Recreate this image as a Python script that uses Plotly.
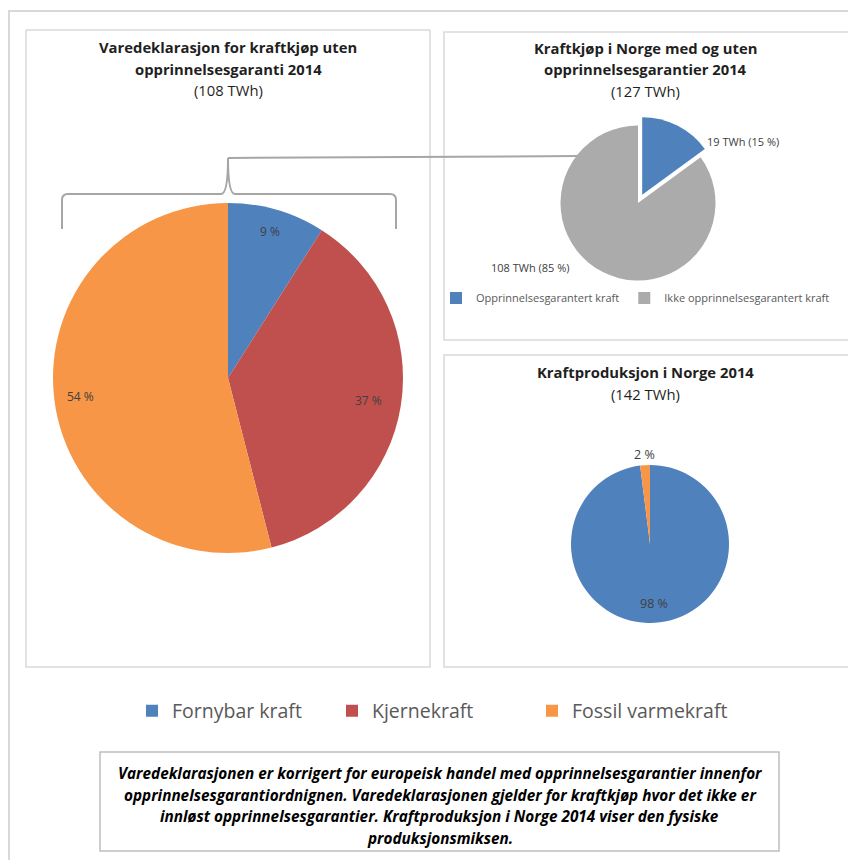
import math
import plotly.graph_objects as go

# page body has an 8px margin: the figure is drawn 8px in from the top-left
OFF = 8
W, H = 840, 852

# ---------------- data ----------------
mix_labels = ["Fornybar kraft", "Kjernekraft", "Fossil varmekraft"]
mix_colors = ["#4F81BD", "#C0504D", "#F79646"]
vare_values = [9, 37, 54]          # Varedeklarasjon uten opprinnelsesgaranti 2014 (%)
prod_values = [98, 0, 2]           # Kraftproduksjon i Norge 2014 (%)

og_labels = ["Opprinnelsesgarantert kraft", "Ikke opprinnelsesgarantert kraft"]
og_values = [19, 108]              # TWh
og_colors = ["#4F81BD", "#ABABAB"]

title_left = ["Varedeklarasjon for kraftkjøp uten", "opprinnelsesgaranti 2014", "(108 TWh)"]
title_tr = ["Kraftkjøp i Norge med og uten", "opprinnelsesgarantier 2014", "(127 TWh)"]
title_br = ["Kraftproduksjon i Norge 2014", "(142 TWh)"]
footnote = [
    "Varedeklarasjonen er korrigert for europeisk handel med opprinnelsesgarantier innenfor",
    "opprinnelsesgarantiordnignen. Varedeklarasjonen gjelder for kraftkjøp hvor det ikke er",
    "innløst opprinnelsesgarantier. Kraftproduksjon i Norge 2014 viser den fysiske",
    "produksjonsmiksen.",
]

FONT = "'Open Sans', Lato, sans-serif"
TXT = "#404040"


def X(px):
    return (px - OFF) / W


def Y(py):
    return 1 - (py - OFF) / H


def dom(cx, cy, half):
    return dict(x=[X(cx - half), X(cx + half)], y=[Y(cy + half), Y(cy - half)])


fig = go.Figure()

# left pie
L_CX, L_CY, L_R = 228, 378, 175
fig.add_trace(go.Pie(
    labels=mix_labels, values=vare_values, marker=dict(colors=mix_colors, line=dict(width=0)),
    sort=False, direction="clockwise", rotation=0, textinfo="none", hoverinfo="label+percent",
    domain=dom(L_CX, L_CY, L_R), legend="legend", showlegend=True,
))

# top-right pie (pulled slice)
PULL = 0.12
T_CX, T_CY, T_R = 638, 203, 77.5
fig.add_trace(go.Pie(
    labels=og_labels, values=og_values, marker=dict(colors=og_colors, line=dict(width=0)),
    pull=[PULL, 0], sort=False, direction="clockwise", rotation=0, textinfo="none",
    domain=dom(T_CX, T_CY, T_R * (1 + PULL)), legend="legend2", showlegend=True,
))

# bottom-right pie
B_CX, B_CY, B_R = 650, 544, 79
fig.add_trace(go.Pie(
    labels=mix_labels, values=prod_values, marker=dict(colors=mix_colors, line=dict(width=0)),
    sort=False, direction="clockwise", rotation=0, textinfo="none",
    domain=dom(B_CX, B_CY, B_R), legend="legend", showlegend=False,
))

ann = []


def slice_label(values, i, cx, cy, r, frac, text, size=12):
    tot = sum(values)
    start = sum(values[:i]) / tot * 360
    mid = math.radians(start + values[i] / tot * 180)
    px = cx + frac * r * math.sin(mid)
    py = cy - frac * r * math.cos(mid)
    ann.append(dict(x=X(px), y=Y(py), xref="paper", yref="paper", text=text, showarrow=False,
                    font=dict(family=FONT, size=size, color=TXT), xanchor="center", yanchor="middle"))


# inside labels, left pie
for i, f in zip(range(3), [0.87, 0.81, 0.85]):
    slice_label(vare_values, i, L_CX, L_CY, L_R, f, f"{vare_values[i]} %")
# bottom right
slice_label(prod_values, 0, B_CX, B_CY, B_R, 0.75, f"{prod_values[0]} %", size=12.5)
slice_label(prod_values, 2, B_CX, B_CY, B_R, 1.13, f"{prod_values[2]} %", size=12.5)

# top right outside labels
og_tot = sum(og_values)
ann.append(dict(x=X(705), y=Y(142), xref="paper", yref="paper", showarrow=False,
                text=f"{og_values[0]} TWh ({round(og_values[0] / og_tot * 100)} %)",
                font=dict(family=FONT, size=11, color=TXT), xanchor="left", yanchor="middle"))
ann.append(dict(x=X(572), y=Y(268), xref="paper", yref="paper", showarrow=False,
                text=f"{og_values[1]} TWh ({round(og_values[1] / og_tot * 100)} %)",
                font=dict(family=FONT, size=11, color=TXT), xanchor="right", yanchor="middle"))


def title_lines(lines, cx, y0, nbold, step=21.5, size=14.8):
    for k, t in enumerate(lines):
        ann.append(dict(x=X(cx), y=Y(y0 + k * step), xref="paper", yref="paper", showarrow=False,
                        text=(f"<b>{t}</b>" if k < nbold else t), xanchor="center", yanchor="middle",
                        font=dict(family=FONT, size=size, color="#1f1f1f")))


title_lines(title_left, 228, 47, 2)
title_lines(title_tr, 645, 48, 2)
title_lines(title_br, 645, 372, 1)

for k, t in enumerate(footnote):
    ann.append(dict(x=X(440), y=Y(773 + k * 21.7), xref="paper", yref="paper", showarrow=False,
                    text=f"<b><i>{t}</i></b>", xanchor="center", yanchor="middle",
                    font=dict(family=FONT, size=15.3, color="#000000")))

shapes = []


def rect(x0, y0, x1, y1, color, w):
    shapes.append(dict(type="rect", xref="paper", yref="paper", x0=X(x0), x1=X(x1), y0=Y(y1), y1=Y(y0),
                       line=dict(color=color, width=w), fillcolor="rgba(0,0,0,0)", layer="below"))


rect(9, 11, 900, 900, "#d9d9d9", 2)
rect(26, 30, 430, 667, "#d9d9d9", 1.5)
rect(444, 32, 849, 340, "#d9d9d9", 1.5)
rect(444, 355, 849, 667, "#d9d9d9", 1.5)
rect(100, 752, 779, 851, "#bfbfbf", 1.5)


def path(pts_cmds):
    out = []
    for c in pts_cmds:
        if isinstance(c, str):
            out.append(c)
        else:
            out.append(f"{X(c[0]):.5f},{Y(c[1]):.5f}")
    return " ".join(out)


brace = path(["M", (62, 229), "L", (62, 200), "Q", (62, 194), (68, 194), "L", (221, 194),
              "Q", (228, 194), (228, 158), "Q", (228, 194), (235, 194), "L", (390, 194),
              "Q", (396, 194), (396, 200), "L", (396, 229)])
shapes.append(dict(type="path", xref="paper", yref="paper", path=brace,
                   line=dict(color="#a6a6a6", width=2)))
shapes.append(dict(type="path", xref="paper", yref="paper",
                   path=path(["M", (228, 158), "L", (580, 156)]),
                   line=dict(color="#a6a6a6", width=2), layer="below"))

fig.update_layout(
    width=W, height=H, margin=dict(l=0, r=0, t=0, b=0),
    paper_bgcolor="white", plot_bgcolor="white",
    annotations=ann, shapes=shapes,
    legend=dict(orientation="h", x=X(132), y=Y(711), xanchor="left", yanchor="middle",
                font=dict(family=FONT, size=19.5, color="#595959"), entrywidth=155,
                bgcolor="rgba(0,0,0,0)", itemclick=False),
    legend2=dict(orientation="h", x=X(436), y=Y(298), xanchor="left", yanchor="middle",
                 font=dict(family=FONT, size=11, color="#595959"),
                 bgcolor="rgba(0,0,0,0)", itemclick=False),
)

fig.write_html("out.html")
